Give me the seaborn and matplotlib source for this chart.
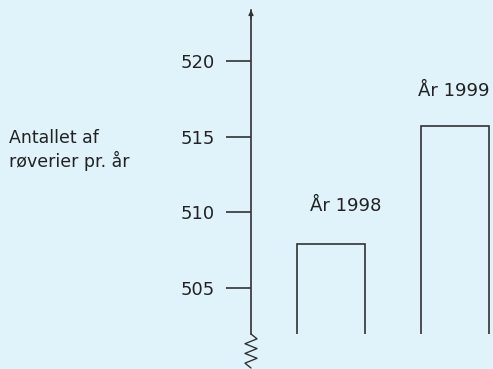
import matplotlib
matplotlib.use("Agg")
import matplotlib.pyplot as plt
import seaborn as sns
import numpy as np
import pandas as pd

years = ["År 1998", "År 1999"]
values = [507.9, 515.7]
yticks = [505, 510, 515, 520]
ylabel_text = "Antallet af\nrøverier pr. år"

BG = "#e0f2fa"
INK = "#333333"
TXT = "#222222"

sns.set_theme(style="white")
plt.rcParams["font.family"] = ["DejaVu Sans"]

W, H = 493, 369
fig = plt.figure(figsize=(W / 100, H / 100), dpi=100, facecolor=BG)
# axes: full width, from pixel row 10 (top) down to 334 (bottom)
top_px, bot_px = 10, 334
ax = fig.add_axes([0, (H - bot_px) / H, 1, (bot_px - top_px) / H])
ax.set_facecolor(BG)

df = pd.DataFrame({"year": years, "value": values})
sns.barplot(data=df, x="year", y="value", ax=ax, width=0.55, fill=False,
            color=INK, linewidth=1.2, errorbar=None)
for p in ax.patches:
    p.set_edgecolor(INK)

# scales
px_per_unit = 15.09
y_bot = 505 - (bot_px - 287.7) / px_per_unit
y_top = 520 + (61.3 - top_px) / px_per_unit
ax.set_ylim(y_bot, y_top)
unit_px = 123.7
x0_px = 331.2
ax.set_xlim((0 - x0_px) / unit_px, (W - x0_px) / unit_px)
axis_x = (251 - x0_px) / unit_px

for s in ["top", "right", "bottom"]:
    ax.spines[s].set_visible(False)
ax.spines["left"].set_position(("data", axis_x))
ax.spines["left"].set_color(INK)
ax.spines["left"].set_linewidth(1.2)
ax.set_yticks(yticks)
ax.tick_params(axis="y", direction="out", length=18, width=1.2, color=INK,
               pad=8, labelsize=13, labelcolor=TXT, left=True)
ax.set_xticks([])
ax.set_xlabel("")
ax.set_ylabel("")

# arrow head on the axis
ax.annotate("", xy=(axis_x, y_top), xytext=(axis_x, y_top - 0.6),
            arrowprops=dict(arrowstyle="-|>", color=INK, lw=1.0,
                            mutation_scale=7, shrinkA=0, shrinkB=0),
            annotation_clip=False)

# zigzag break below axis
zz_px_y = np.linspace(bot_px, 368, 8)
zz_px_x = 251 + np.array([0, 6, -6, 6, -6, 6, -6, 0])
zz_x = (zz_px_x - x0_px) / unit_px
zz_y = y_bot - (zz_px_y - bot_px) / px_per_unit
ax.plot(zz_x, zz_y, color=INK, lw=1.0, clip_on=False)

# bar labels
label_dx_px = [14, -1]
label_dy_px = [38, 35]
for i, (lab, v) in enumerate(zip(years, values)):
    ax.text(i + label_dx_px[i] / unit_px, v + label_dy_px[i] / px_per_unit, lab,
            ha="center", va="center", fontsize=13, color=TXT)

fig.text(9 / W, 1 - 150 / H, ylabel_text, ha="left", va="center",
         fontsize=12.5, color=TXT)

fig.savefig("out.png", dpi=100, facecolor=BG)
